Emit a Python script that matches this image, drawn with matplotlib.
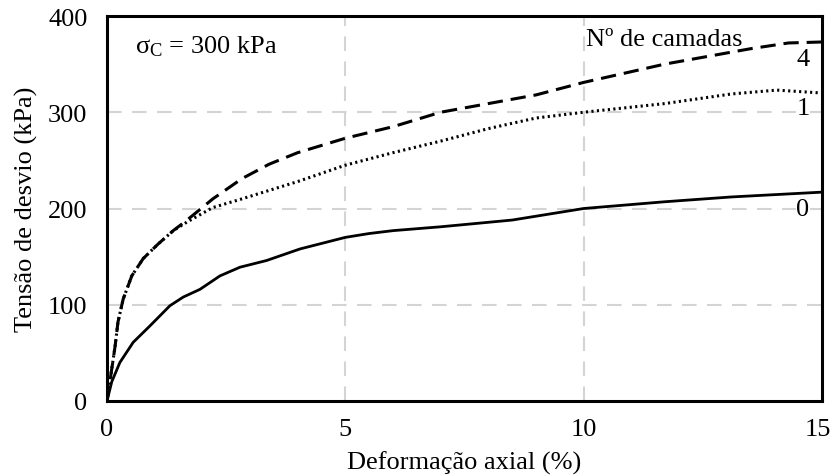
import matplotlib
matplotlib.use("Agg")
import matplotlib.pyplot as plt
from matplotlib.transforms import ScaledTranslation

plt.rcParams['font.family'] = ['Liberation Serif', 'DejaVu Serif']
plt.rcParams['mathtext.fontset'] = 'custom'
plt.rcParams['mathtext.rm'] = 'Liberation Serif'
plt.rcParams['mathtext.it'] = 'Liberation Serif:italic'

FS = 19

# Axial strain (%) and deviator stress (kPa) for each number of layers
x0 = [0.0, 0.1, 0.27, 0.55, 0.9, 1.32, 1.6, 1.95, 2.37, 2.79, 3.35, 4.05, 5.0, 5.5, 6.0,
      7.0, 8.5, 10.0, 11.7, 13.1, 15.0]
y0 = [0, 20, 40, 61, 78, 99, 108, 116, 130, 139, 146, 158, 170, 174, 177,
      181, 188, 200, 207, 212, 217]

x1 = [0.0, 0.06, 0.17, 0.23, 0.34, 0.52, 0.76, 1.07, 1.39, 1.68, 2.22, 2.83, 4.0, 5.0, 6.0,
      7.0, 8.0, 9.0, 10.0, 11.7, 13.1, 14.05, 15.0]
y1 = [0, 20, 57, 82, 106, 130, 148, 163, 177, 186, 201, 210, 228, 245, 258,
      270, 283, 294, 300, 309, 319, 323, 320]

x4 = [0.0, 0.06, 0.17, 0.23, 0.34, 0.52, 0.76, 1.07, 1.39, 1.68, 2.22, 2.83, 3.4, 4.0, 5.0,
      6.0, 7.0, 8.0, 9.0, 10.0, 11.7, 13.5, 14.3, 15.0]
y4 = [0, 20, 57, 82, 106, 130, 148, 163, 177, 188, 210, 231, 246, 258, 273,
      285, 300, 309, 318, 331, 350, 366, 372, 373]

layer_labels = ['0', '1', '4']
label_y = [200, 304, 355]

xticks = [0, 5, 10, 15]
yticks = [0, 100, 200, 300, 400]

fig = plt.figure(figsize=(8.33, 4.77), dpi=100)
ax = fig.add_axes([107 / 833, 1 - 402 / 477, 715 / 833, 385 / 477])

ax.plot(x0, y0, color='black', lw=2.0, ls='-', solid_capstyle='round')
ax.plot(x1, y1, color='black', lw=2.2, ls=(0, (0.7, 1.1)))
ax.plot(x4, y4, color='black', lw=2.2, ls=(0, (5, 2.6)))

ax.set_xlim(0, 15)
ax.set_ylim(0, 400)
ax.set_xticks(xticks)
ax.set_yticks(yticks)
ax.tick_params(length=0, labelsize=FS)
ax.tick_params(axis='x', pad=12)
ax.tick_params(axis='y', pad=14)

# keep the last x tick label inside the canvas
last = ax.get_xticklabels()[-1]
last.set_transform(last.get_transform() + ScaledTranslation(-4 / 100, 0, fig.dpi_scale_trans))

for v in xticks[1:-1]:
    ax.axvline(v, color='#d4d4d4', lw=1.5, ls=(0, (7, 5)), zorder=0)
for v in yticks[1:-1]:
    ax.axhline(v, color='#d4d4d4', lw=1.5, ls=(0, (7, 5)), zorder=0)

for s in ax.spines.values():
    s.set_linewidth(2.2)
    s.set_color('black')

ax.set_xlabel('Deformação axial (%)', fontsize=FS, labelpad=8)
ax.set_ylabel('Tensão de desvio (kPa)', fontsize=FS, labelpad=7)

ax.text(0.58, 369, r'$\mathrm{σ}_\mathrm{C}$ = 300 kPa', fontsize=FS, va='center', ha='left')
ax.text(10.05, 376, 'Nº de camadas', fontsize=FS, va='center', ha='left')
for lab, yv in zip(layer_labels, label_y):
    ax.text(14.6, yv, lab, fontsize=FS, va='center', ha='center',
            bbox=dict(facecolor='white', edgecolor='none', pad=0.5))

fig.savefig('out.png', dpi=100)
